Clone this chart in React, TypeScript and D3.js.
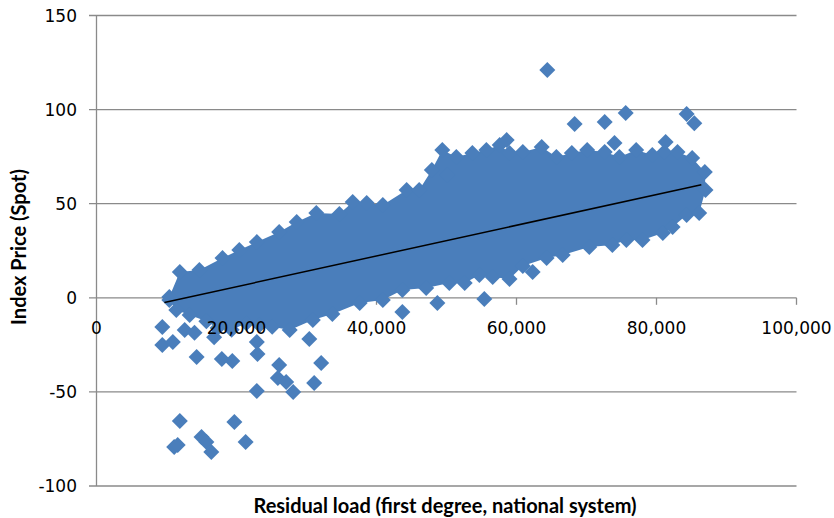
import React from "react";
import * as d3 from "d3";

// Residual load (MW) vs. index spot price (EUR/MWh)

// Upper boundary of the dense point cloud, ordered by load
const upperEdge: [number, number][] = [
  [10400, 0.4], [11900, 13.7], [14700, 14.8], [18000, 21.1], [20400, 25.4],
  [22900, 29.6], [26100, 35.0], [28600, 40.3], [31400, 45.1], [34700, 44.5],
  [36600, 50.9], [38600, 50.4], [40900, 49.3], [44300, 57.3], [46100, 57.3],
  [47900, 67.9], [49400, 78.5], [51400, 74.8], [53700, 76.9], [55700, 78.5],
  [57600, 81.2], [59000, 76.9], [60900, 77.5], [63600, 80.1], [65700, 74.8],
  [67900, 76.9], [70100, 78.5], [72600, 77.5], [74700, 74.8], [77100, 78.5],
  [79400, 75.9], [81100, 77.5], [83000, 77.5], [85100, 74.3], [86900, 66.8],
  [87000, 57.3],
];

// Lower boundary of the dense point cloud, ordered by load
const lowerEdge: [number, number][] = [
  [10400, -1.2], [11400, -6.5], [13300, -9.1], [15700, -12.5], [17300, -16.0],
  [19300, -17.0], [21400, -13.5], [23300, -14.5], [25100, -15.4], [27600, -17.1],
  [30900, -11.8], [33700, -8.6], [37600, -2.8], [40900, -1.2], [43700, 4.1],
  [47100, 5.2], [50400, 7.9], [52600, 7.9], [54700, 12.1], [56600, 11.1],
  [59000, 10.0], [60900, 16.9], [64300, 21.1], [66600, 22.7], [70400, 27.0],
  [73700, 28.1], [75700, 30.7], [78000, 30.7], [80900, 34.4], [82300, 37.6],
  [84300, 44.0], [86100, 45.1],
];

// Isolated hours outside the main cloud
const outliers: [number, number][] = [
  [9400, -15.5], [9400, -25.1], [10900, -23.5], [12600, -17.1], [14000, -18.6],
  [16800, -21.0], [14300, -31.4], [17900, -32.5], [19400, -33.6], [22900, -23.5],
  [23000, -29.9], [26100, -35.7], [25900, -42.6], [27100, -44.7], [28100, -50.1],
  [22900, -49.5], [30400, -21.9], [32100, -34.6], [31100, -45.3], [43700, -7.5],
  [48700, -2.8], [55400, -0.6], [62300, 13.7], [11900, -65.5], [11100, -79.3],
  [11600, -78.2], [15000, -74.0], [15700, -76.6], [16400, -81.9], [19700, -66.0],
  [21300, -76.6],
  [64400, 121.0], [68300, 92.3], [72600, 93.4], [75600, 98.2], [84300, 97.6],
  [85400, 92.8], [74000, 82.2], [81300, 82.8], [58600, 83.8], [50100, 65.2],
];

// Linear trend line end points
const trendLine: [number, number][] = [[9700, -2.5], [86400, 60.1]];

const xTicks = [0, 20000, 40000, 60000, 80000, 100000];
const yTicks = [-100, -50, 0, 50, 100, 150];

const BLUE = "#4a7ebb";
const GRID = "#8a8a8a";
const R = 8;

const diamond = (cx: number, cy: number) =>
  `M${cx},${cy - R}L${cx + R},${cy}L${cx},${cy + R}L${cx - R},${cy}Z`;

export default function App() {
  const W = 834;
  const H = 518;
  const x = d3.scaleLinear().domain([0, 100000]).range([96.5, 796.5]);
  const y = d3.scaleLinear().domain([-100, 150]).range([486, 15.5]);
  const fmt = d3.format(",");

  const line = d3
    .line<[number, number]>()
    .x((d) => x(d[0]))
    .y((d) => y(d[1]));

  const cloud = [...upperEdge, ...lowerEdge.slice().reverse()];
  const points = [...upperEdge, ...lowerEdge, ...outliers];

  return (
    <svg
      width={W}
      height={H}
      style={{ position: "absolute", left: 0, top: 0, background: "#fff" }}
    >
      {/* horizontal gridlines with left tick stubs */}
      {yTicks
        .filter((t) => t !== 0)
        .map((t) => (
          <line
            key={`g${t}`}
            x1={89}
            x2={x(100000)}
            y1={y(t)}
            y2={y(t)}
            stroke={GRID}
            strokeWidth={1.3}
          />
        ))}
      {/* vertical axis */}
      <line x1={x(0)} x2={x(0)} y1={y(150)} y2={y(-100)} stroke={GRID} strokeWidth={1.3} />
      {/* horizontal axis through zero */}
      <line x1={89} x2={x(100000)} y1={y(0)} y2={y(0)} stroke={GRID} strokeWidth={1.3} />
      {xTicks.slice(1).map((t) => (
        <line
          key={`xt${t}`}
          x1={x(t)}
          x2={x(t)}
          y1={y(0)}
          y2={y(0) + 7}
          stroke={GRID}
          strokeWidth={1.3}
        />
      ))}

      {/* point cloud */}
      <path d={line(cloud) + "Z"} fill={BLUE} />
      {points.map((p, i) => (
        <path key={i} d={diamond(x(p[0]), y(p[1]))} fill={BLUE} />
      ))}

      {/* trend line */}
      <path d={line(trendLine) ?? ""} stroke="#000" strokeWidth={1.5} fill="none" />

      {/* tick labels, drawn over the markers */}
      <g fontFamily="DejaVu Sans, Verdana, sans-serif" fontSize={17} fill="#000">
        {yTicks.map((t) => (
          <text key={`yl${t}`} x={77} y={y(t)} textAnchor="end" dominantBaseline="central">
            {t}
          </text>
        ))}
        {xTicks.map((t) => (
          <text key={`xl${t}`} x={x(t)} y={y(0) + 30} textAnchor="middle" dominantBaseline="central">
            {fmt(t)}
          </text>
        ))}
      </g>

      {/* axis titles */}
      <text
        x={445}
        y={505}
        textAnchor="middle"
        dominantBaseline="central"
        fontFamily="Lato, sans-serif"
        fontWeight="bold"
        fontSize={20}
      >
        Residual load (first degree, national system)
      </text>
      <text
        transform={`translate(18,247) rotate(-90)`}
        textAnchor="middle"
        dominantBaseline="central"
        fontFamily="Lato, sans-serif"
        fontWeight="bold"
        fontSize={20}
      >
        Index Price (Spot)
      </text>
    </svg>
  );
}
